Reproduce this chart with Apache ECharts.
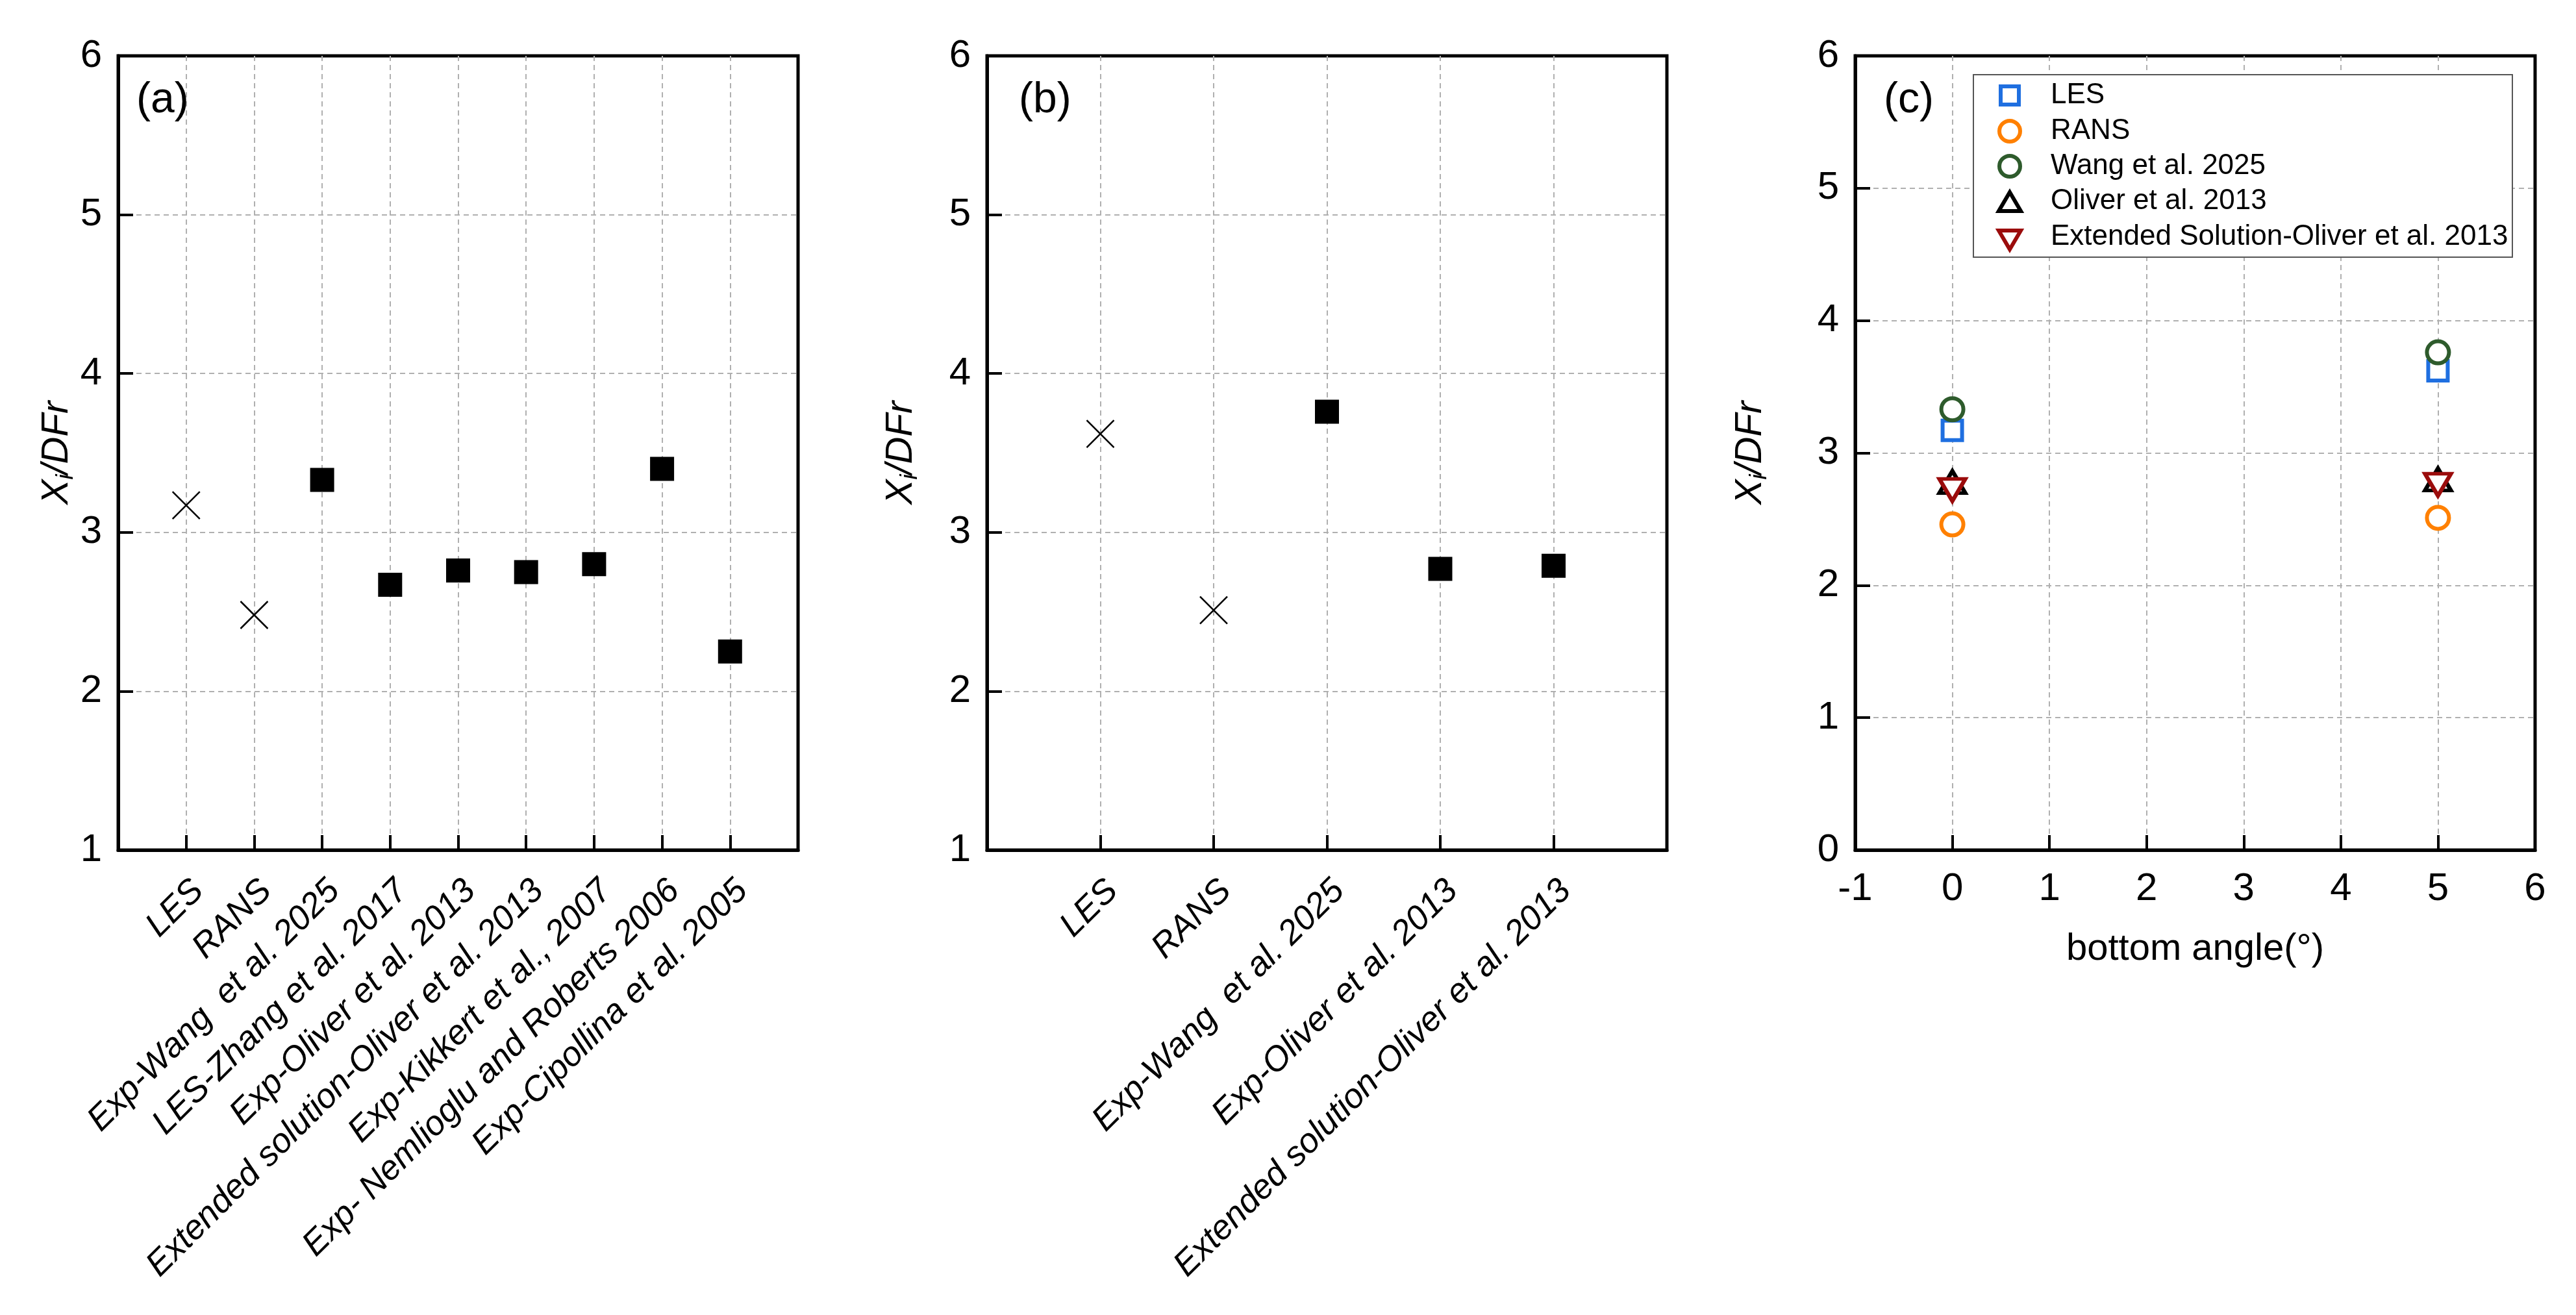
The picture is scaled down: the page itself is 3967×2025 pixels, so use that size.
<!DOCTYPE html>
<html><head><meta charset="utf-8">
<script src="https://cdn.jsdelivr.net/npm/echarts@6/dist/echarts.min.js"></script>
<style>html,body{margin:0;padding:0;background:#fff}#c{width:3967px;height:2025px}</style>
</head><body><div id="c"></div>
<script>
// ---- data ----
const catsA = ['LES','RANS','Exp-Wang  et al. 2025','LES-Zhang et al. 2017','Exp-Oliver et al. 2013','Extended solution-Oliver et al. 2013','Exp-Kikkert et al., 2007','Exp- Nemlioglu and Roberts 2006','Exp-Cipollina et al. 2005'];
const valuesA = [3.17, 2.48, 3.33, 2.67, 2.76, 2.75, 2.80, 3.40, 2.25];
const catsB = ['LES','RANS','Exp-Wang  et al. 2025','Exp-Oliver et al. 2013','Extended solution-Oliver et al. 2013'];
const valuesB = [3.62, 2.51, 3.76, 2.77, 2.79];
const simulated = ['LES','RANS'];   // drawn as crosses, the rest as filled squares
const anglesC = [0, 5];
const lesC = [3.17, 3.62];
const ransC = [2.46, 2.51];
const wangC = [3.33, 3.76];
const oliverC = [2.78, 2.80];
const extC = [2.72, 2.76];
const legendNames = ['LES', 'RANS', 'Wang et al. 2025', 'Oliver et al. 2013', 'Extended Solution-Oliver et al. 2013'];
const yTicksAB = [1, 6];
const yTicksC = [0, 6];
const xTicksC = [-1, 6];

// ---- styles ----
const FONT = 'Liberation Sans, Arial, sans-serif';
const BLACK = '#000';
const GRIDC = '#b0b0b0';
const gridTop = 86, gridH = 1223, gridW = 1047;
const lefts = [182, 1520, 2857];
const COLORS = ['#1f6fe0', '#ff8000', '#2e5b2c', '#000000', '#9b0c0c'];

function catPoints(cats, vals, sim) {
  const out = [];
  cats.forEach((c, i) => { if (simulated.includes(c) === sim) out.push([i + 1, vals[i]]); });
  return out;
}
const axisLineS = {show: true, onZero: false, lineStyle: {color: BLACK, width: 5}};
const tickS = {show: true, inside: true, length: 23, lineStyle: {color: BLACK, width: 4}};
const splitS = {show: true, showMinLine: false, showMaxLine: false, lineStyle: {color: GRIDC, width: 2, type: [8, 6]}};
function catX(gi, cats) {
  return {type: 'value', gridIndex: gi, min: 0, max: cats.length + 1, interval: 1,
    axisLine: axisLineS, axisTick: tickS, splitLine: splitS,
    axisLabel: {rotate: 45, fontSize: 53, fontStyle: 'italic', color: BLACK, fontFamily: FONT, margin: 36,
      verticalAlign: 'top', formatter: v => cats[v - 1] || ''}};
}
function yAx(gi, range, gap) {
  return {type: 'value', gridIndex: gi, min: range[0], max: range[1], interval: 1,
    axisLine: axisLineS, axisTick: tickS, splitLine: splitS,
    axisLabel: {fontSize: 60, color: BLACK, fontFamily: FONT, margin: 25},
    name: '{i|X}{s|i}{i|/DFr}', nameLocation: 'middle', nameRotate: 90, nameGap: gap,
    nameTextStyle: {color: BLACK, fontFamily: FONT, rich: {
      i: {fontSize: 58, fontStyle: 'italic', fontFamily: FONT, color: BLACK, lineHeight: 64},
      s: {fontSize: 36, fontStyle: 'italic', fontFamily: FONT, color: BLACK, lineHeight: 46, verticalAlign: 'bottom'}}}};
}
const crossSym = 'path://M0,0L10,10M10,0L0,10';
function crossSeries(gi, pts) {
  return {type: 'scatter', xAxisIndex: gi, yAxisIndex: gi, symbol: crossSym, symbolSize: 42, symbolKeepAspect: true,
    itemStyle: {color: 'none', borderColor: BLACK, borderWidth: 2.5, opacity: 1}, data: pts, silent: true, emphasis: {disabled: true}};
}
function squareSeries(gi, pts) {
  return {type: 'scatter', xAxisIndex: gi, yAxisIndex: gi, symbol: 'rect', symbolSize: 37,
    itemStyle: {color: BLACK, opacity: 1}, data: pts, silent: true, emphasis: {disabled: true}};
}
function hollow(idx, sym, size, ys, rot) {
  return {type: 'scatter', name: legendNames[idx], xAxisIndex: 2, yAxisIndex: 2, symbol: sym, symbolSize: size, symbolRotate: rot || 0,
    itemStyle: {color: '#fff', borderColor: COLORS[idx], borderWidth: 6, borderJoin: 'miter', opacity: 1},
    data: anglesC.map((a, i) => [a, ys[i]]), silent: true, emphasis: {disabled: true}};
}

// legend drawn as a boxed key inside panel (c)
const LX = 3039, LY = 115, LW = 830, LH = 281, ICX = 3095, TX = 3158;
const rowsY = [147, 202, 256, 310, 365];
const legendGraphics = [
  {type: 'rect', shape: {x: LX, y: LY, width: LW, height: LH}, style: {fill: '#fff', stroke: '#555', lineWidth: 2}, z: 10, silent: true},
  {type: 'rect', shape: {x: ICX - 14, y: rowsY[0] - 14, width: 28, height: 28}, style: {fill: '#fff', stroke: COLORS[0], lineWidth: 6}, z: 11, silent: true},
  {type: 'circle', shape: {cx: ICX, cy: rowsY[1], r: 16}, style: {fill: '#fff', stroke: COLORS[1], lineWidth: 6}, z: 11, silent: true},
  {type: 'circle', shape: {cx: ICX, cy: rowsY[2], r: 16}, style: {fill: '#fff', stroke: COLORS[2], lineWidth: 6}, z: 11, silent: true},
  {type: 'polygon', shape: {points: [[ICX, rowsY[3] - 14], [ICX + 17, rowsY[3] + 15], [ICX - 17, rowsY[3] + 15]]}, style: {fill: '#fff', stroke: COLORS[3], lineWidth: 6, lineJoin: 'miter'}, z: 11, silent: true},
  {type: 'polygon', shape: {points: [[ICX, rowsY[4] + 19], [ICX + 17, rowsY[4] - 10], [ICX - 17, rowsY[4] - 10]]}, style: {fill: '#fff', stroke: COLORS[4], lineWidth: 6, lineJoin: 'miter'}, z: 11, silent: true}
].concat(legendNames.map((n, i) => ({type: 'text', x: TX, y: rowsY[i], z: 11, silent: true,
  style: {text: n, fontSize: 44, fontFamily: FONT, fill: BLACK, verticalAlign: 'middle', align: 'left'}})));

const option = {
  animation: false,
  backgroundColor: '#fff',
  textStyle: {fontFamily: FONT},
  title: [
    {text: '(a)', left: 210, top: 122, padding: 0, textStyle: {fontSize: 66, fontWeight: 'normal', color: BLACK, fontFamily: FONT}},
    {text: '(b)', left: 1569, top: 122, padding: 0, textStyle: {fontSize: 66, fontWeight: 'normal', color: BLACK, fontFamily: FONT}},
    {text: '(c)', left: 2901, top: 122, padding: 0, textStyle: {fontSize: 66, fontWeight: 'normal', color: BLACK, fontFamily: FONT}}
  ],
  grid: lefts.map(l => ({left: l, top: gridTop, width: gridW, height: gridH, show: true, borderColor: BLACK, borderWidth: 5, backgroundColor: 'transparent'})),
  xAxis: [
    catX(0, catsA),
    catX(1, catsB),
    {type: 'value', gridIndex: 2, min: xTicksC[0], max: xTicksC[1], interval: 1,
      axisLine: axisLineS, axisTick: tickS, splitLine: splitS,
      axisLabel: {fontSize: 60, color: BLACK, fontFamily: FONT, margin: 30},
      name: 'bottom angle(°)', nameLocation: 'middle', nameGap: 124,
      nameTextStyle: {fontSize: 58, color: BLACK, fontFamily: FONT}}
  ],
  yAxis: [yAx(0, yTicksAB, 59), yAx(1, yTicksAB, 100), yAx(2, yTicksC, 129)],
  graphic: legendGraphics,
  series: [
    crossSeries(0, catPoints(catsA, valuesA, true)),
    squareSeries(0, catPoints(catsA, valuesA, false)),
    crossSeries(1, catPoints(catsB, valuesB, true)),
    squareSeries(1, catPoints(catsB, valuesB, false)),
    hollow(0, 'rect', 30, lesC),
    hollow(1, 'circle', 34, ransC),
    hollow(2, 'circle', 34, wangC),
    hollow(3, 'triangle', [40, 34], oliverC),
    hollow(4, 'triangle', [40, 34], extC, 180)
  ]
};
const chart = echarts.init(document.getElementById('c'), null, {renderer: 'canvas'});
chart.setOption(option);
</script></body></html>
